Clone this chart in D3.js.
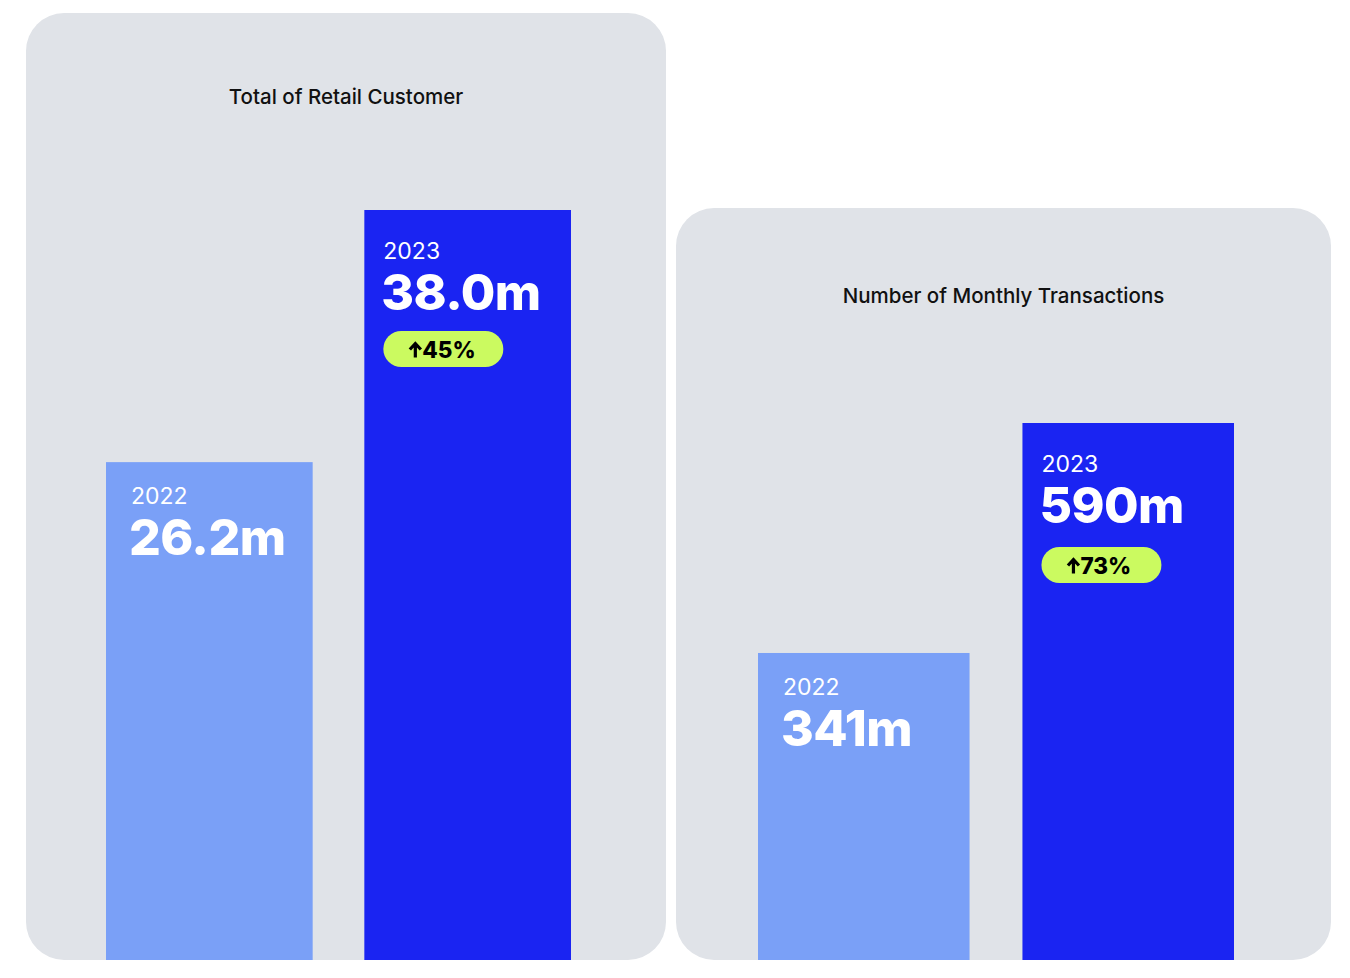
<!DOCTYPE html>
<html>
<head>
<meta charset="utf-8">
<script src="https://cdn.jsdelivr.net/npm/d3@7"></script>
<style>
  html, body { margin: 0; padding: 0; background: #fff; }
  svg { display: block; font-family: Inter, "Noto Sans", sans-serif; }
</style>
</head>
<body>
<div id="chart"></div>
<script>
// data
const panelTitles = ["Total of Retail Customer", "Number of Monthly Transactions"];
const years = ["2022", "2023"];
const retailValues = [26.2, 38.0];
const transactionValues = [341, 590];
const growthLabels = ["45%", "73%"];
// value axis floor (bars are not zero-based on the left)
const retailDomain = [2.9, 38];
const transactionDomain = [8.6, 590];

const W = 1350, H = 978;
const colors = { panel: "#e0e3e8", light: "#7aa0f7", dark: "#1a24f2", badge: "#cbfa60" };

const svg = d3.select("#chart").append("svg")
    .attr("width", W)
    .attr("height", H);

// layout of each card
const panels = [
    { title: panelTitles[0], values: retailValues, domain: retailDomain, fmt: v => d3.format(".1f")(v) + "m",
      growth: growthLabels[0], x0: 26, x1: 666, top: 13, titleDy: 91, barX: [106, 571], barTop: 210, badgeDy: 121 },
    { title: panelTitles[1], values: transactionValues, domain: transactionDomain, fmt: v => d3.format("d")(v) + "m",
      growth: growthLabels[1], x0: 676, x1: 1331, top: 208, titleDy: 95, barX: [758, 1234], barTop: 423, badgeDy: 124 }
];
const bottom = 960;

panels.forEach(p => {
    const g = svg.append("g");

    g.append("rect")
        .attr("x", p.x0).attr("y", p.top)
        .attr("width", p.x1 - p.x0).attr("height", bottom - p.top)
        .attr("rx", 38)
        .attr("fill", colors.panel);

    g.append("text")
        .attr("x", (p.x0 + p.x1) / 2)
        .attr("y", p.top + p.titleDy)
        .attr("text-anchor", "middle")
        .attr("font-size", 20.5)
        .attr("font-weight", 500)
        .attr("fill", "#111")
        .text(p.title);

    const x = d3.scaleBand().domain(years).range(p.barX).paddingInner(0.2);
    const y = d3.scaleLinear().domain(p.domain).range([bottom, p.barTop]);

    const rows = years.map((yr, i) => ({ year: yr, value: p.values[i], i }));

    const bar = g.selectAll(".bar")
        .data(rows)
        .enter()
        .append("g")
        .attr("class", "bar");

    bar.append("rect")
        .attr("x", d => x(d.year))
        .attr("y", d => y(d.value))
        .attr("width", x.bandwidth())
        .attr("height", d => bottom - y(d.value))
        .attr("fill", d => d.i === 0 ? colors.light : colors.dark);

    // text inset differs a little between light and dark bars
    const padX = d => d.i === 0 ? 25 : 19;
    const padY = d => d.i === 0 ? 42 : 49;

    bar.append("text")
        .attr("x", d => x(d.year) + padX(d))
        .attr("y", d => y(d.value) + padY(d))
        .attr("font-size", 23)
        .attr("font-weight", 400)
        .attr("fill", "#fff")
        .text(d => d.year);

    bar.append("text")
        .attr("x", d => x(d.year) + padX(d) - 2)
        .attr("y", d => y(d.value) + padY(d) + 51)
        .attr("font-size", 50)
        .attr("font-weight", 800)
        .attr("letter-spacing", -0.6)
        .attr("fill", "#fff")
        .text(d => p.fmt(d.value));

    // growth badge on the latest year
    const last = rows[rows.length - 1];
    const bx = x(last.year) + padX(last);
    const by = y(last.value) + p.badgeDy;
    const badge = g.append("g").attr("transform", `translate(${bx},${by})`);
    badge.append("rect")
        .attr("width", 120).attr("height", 36).attr("rx", 18)
        .attr("fill", colors.badge);
    badge.append("path")
        .attr("d", "M32,26.5 L32,13 M26.5,18.5 L32,12.5 L37.5,18.5")
        .attr("fill", "none")
        .attr("stroke", "#000")
        .attr("stroke-width", 3.2)
        .attr("stroke-linecap", "butt");
    badge.append("text")
        .attr("x", 39)
        .attr("y", 26.5)
        .attr("font-size", 22.5)
        .attr("font-weight", 800)
        .attr("fill", "#000")
        .text(p.growth);
});
</script>
</body>
</html>
